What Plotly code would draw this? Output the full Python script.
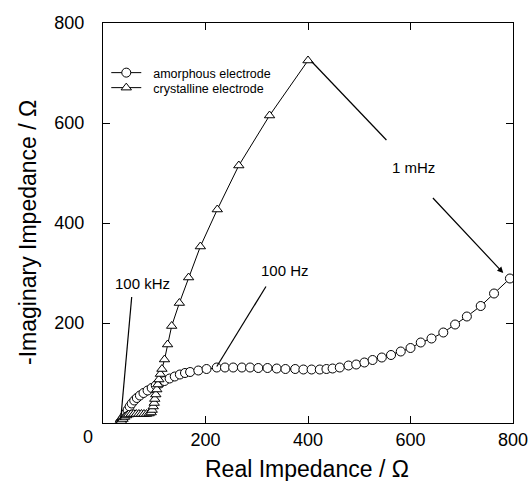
import plotly.graph_objects as go

# amorphous electrode (circles)
amor_x = [33, 35, 37, 39, 42, 45, 48, 52, 56, 61, 66, 72, 79, 87, 95, 103, 111, 120, 130, 140,
          150, 160, 170, 186, 202, 222, 238, 254, 271, 287, 303, 321, 339, 356, 375, 391, 407,
          423, 436, 448, 462, 479, 494, 510, 526, 544, 562, 581, 600, 620, 641, 664, 687, 710,
          737, 763, 794]
amor_y = [1, 3, 6, 9, 14, 20, 26, 33, 39, 45, 50, 55, 60, 65, 70, 75, 79, 84, 89, 93,
          97, 100, 102, 105, 108, 111, 111, 111, 111, 111, 110, 110, 109, 108, 108, 107, 107,
          107, 108, 109, 111, 115, 117, 121, 126, 131, 136, 143, 150, 161, 169, 181, 197, 213,
          234, 259, 289]

# crystalline electrode (triangles)
cry_x = [33, 36, 39, 42, 46, 50, 55, 60, 65, 70, 75, 80, 85, 90, 94, 96, 98, 100, 101, 103,
         105, 107, 109, 112, 115, 120, 126, 134, 149, 167, 190, 223, 265, 325, 400]
cry_y = [1, 4, 8, 12, 15, 17, 18, 18, 18, 18, 18, 18, 18, 19, 21, 26, 33, 40, 48, 57,
         67, 77, 87, 98, 108, 127, 157, 194, 240, 291, 353, 427, 515, 615, 725]

x_ticks = [200, 400, 600, 800]
y_ticks = [200, 400, 600, 800]

font = "Liberation Sans, Arial, sans-serif"
NB = "\u00a0\u00a0"

fig = go.Figure()
fig.add_trace(go.Scatter(
    x=amor_x, y=amor_y, mode="lines+markers", name=NB + "amorphous electrode",
    line=dict(color="black", width=1), legend="legend",
    marker=dict(symbol="circle", size=9, color="white", line=dict(color="black", width=1)),
))
fig.add_trace(go.Scatter(
    x=cry_x, y=cry_y, mode="lines+markers", name=NB + "crystalline electrode",
    line=dict(color="black", width=1), legend="legend2",
    marker=dict(symbol="triangle-up", size=9, color="white", line=dict(color="black", width=1)),
))

axis_common = dict(
    range=[0, 800], showline=True, linecolor="black", linewidth=1, mirror="ticks",
    ticks="inside", ticklen=7, tickcolor="black", tickwidth=1, showgrid=False, zeroline=False,
    automargin=False,
    tickfont=dict(family=font, size=18, color="black"),
)
fig.update_xaxes(**axis_common, tickvals=x_ticks, ticklabelstandoff=0)
fig.update_yaxes(**axis_common, tickvals=y_ticks, ticklabelstandoff=14)

annotations = [
    dict(text="0", x=-0.036, y=-0.035, xref="paper", yref="paper", showarrow=False,
         xanchor="center", yanchor="middle",
         font=dict(family=font, size=18, color="black")),
    dict(text="Real Impedance / Ω", x=0.4976, y=-0.115, xref="paper", yref="paper",
         showarrow=False, xanchor="center", yanchor="middle",
         font=dict(family=font, size=23, color="black")),
    dict(text="-Imaginary Impedance / Ω", x=-0.183, y=0.4775, xref="paper", yref="paper",
         showarrow=False, textangle=-90, xanchor="center", yanchor="middle",
         font=dict(family=font, size=23, color="black")),
    dict(text="100 kHz", x=78, y=280, xref="x", yref="y", showarrow=False,
         font=dict(family=font, size=15, color="black")),
    dict(text="100 Hz", x=355, y=306, xref="x", yref="y", showarrow=False,
         font=dict(family=font, size=15, color="black")),
    dict(text="1 mHz", x=605, y=512, xref="x", yref="y", showarrow=False,
         font=dict(family=font, size=15, color="black")),
    dict(text="", x=781, y=300, ax=641, ay=453, xref="x", yref="y", axref="x", ayref="y",
         showarrow=True, arrowhead=2, arrowsize=1, arrowwidth=1.2, arrowcolor="black"),
]
shapes = [
    dict(type="line", x0=56, y0=252, x1=34.5, y1=6, xref="x", yref="y",
         line=dict(color="black", width=1.2)),
    dict(type="line", x0=318, y0=273, x1=222, y1=113, xref="x", yref="y",
         line=dict(color="black", width=1.2)),
    dict(type="line", x0=553, y0=566, x1=407, y1=723, xref="x", yref="y",
         line=dict(color="black", width=1.2)),
]

legend_common = dict(xanchor="left", yanchor="top", bgcolor="rgba(0,0,0,0)",
                     font=dict(family=font, size=12.5, color="black"), itemwidth=30)

fig.update_layout(
    width=531, height=481,
    margin=dict(l=103, r=18, t=23, b=58),
    paper_bgcolor="white", plot_bgcolor="white",
    showlegend=True,
    legend=dict(x=0.008, y=0.9125, **legend_common),
    legend2=dict(x=0.008, y=0.875, **legend_common),
    annotations=annotations, shapes=shapes,
)

fig.write_html("out.html")
